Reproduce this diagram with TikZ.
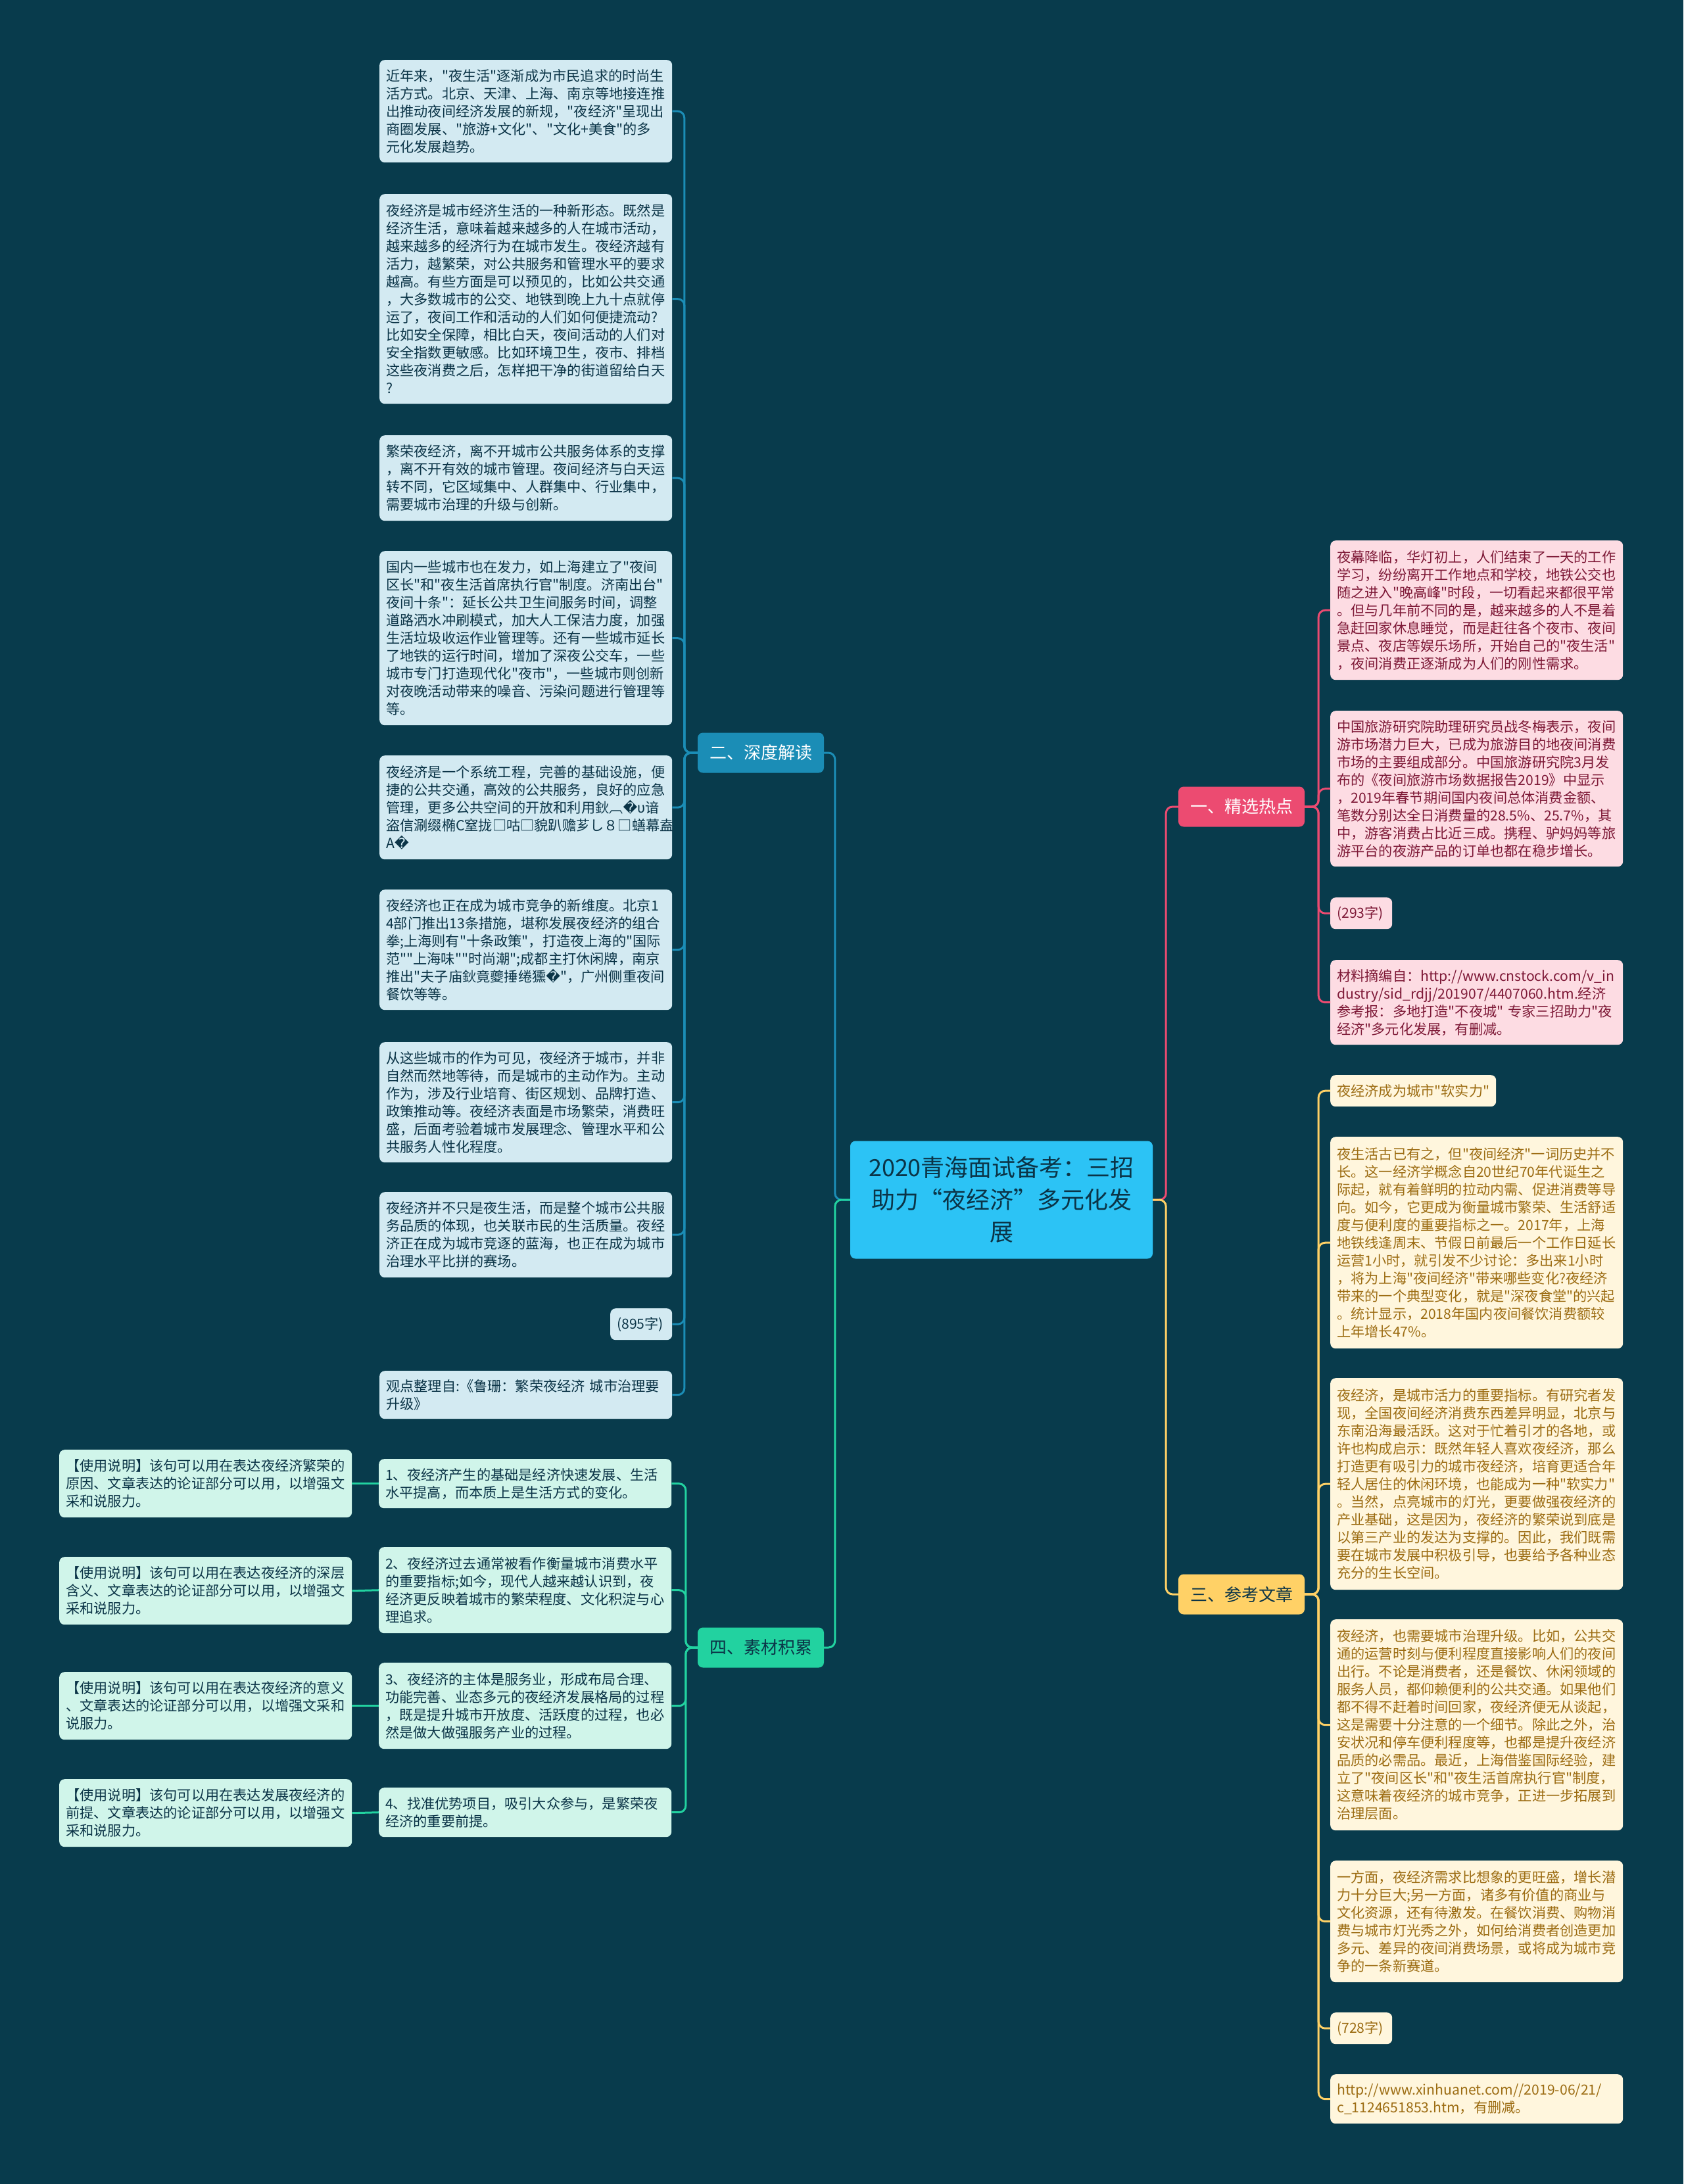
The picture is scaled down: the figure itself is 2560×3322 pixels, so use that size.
\documentclass[tikz,border=0pt]{standalone}
\usepackage{fontspec}
\setmainfont{Noto Sans CJK SC}[Ligatures=TeXOff]
\newfontfamily\repfont{DejaVu Sans}
\usepackage{tikz}
\usepackage{xcolor}

\definecolor{bgnight}{HTML}{083B4C}
\definecolor{rootsky}{HTML}{2CC3F5}
\definecolor{inkdark}{HTML}{0B3447}
\definecolor{deepblue}{HTML}{1B8DB6}
\definecolor{mintgreen}{HTML}{22D2A0}
\definecolor{rosered}{HTML}{EC4B71}
\definecolor{sunyellow}{HTML}{FFD166}
\definecolor{leafblue}{HTML}{D3EAF2}
\definecolor{leafmint}{HTML}{D0F5EA}
\definecolor{leafpink}{HTML}{FDDCE3}
\definecolor{leafcream}{HTML}{FFF6DD}
\definecolor{inkrose}{HTML}{7D1836}
\definecolor{inkgold}{HTML}{9C6C12}

\newcommand\leaffont{\fontsize{21.2pt}{27pt}\selectfont}
\newcommand\qm{{\repfont\symbol{"FFFD}}}

\begin{document}
\begin{tikzpicture}[x=1pt,y=-1pt,
  leaf/.style={anchor=north west,rounded corners=8pt,text width=425pt,
    inner xsep=10pt,inner ysep=0pt,align=left,font=\leaffont},
  leafb/.style={leaf,fill=leafblue,text=inkdark},
  leafm/.style={leaf,fill=leafmint,text=inkdark},
  leafp/.style={leaf,fill=leafpink,text=inkrose},
  leafc/.style={leaf,fill=leafcream,text=inkgold},
  branch/.style={rounded corners=8pt,minimum width=192pt,minimum height=61pt,
    inner sep=0pt,font=\fontsize{26pt}{30pt}\selectfont},
  link/.style={line width=3pt,rounded corners=10pt}]

  \fill[bgnight] (0,0) rectangle (2560,3322);
  \useasboundingbox (0,0) rectangle (2560,3322);

  % centre and main branches
  \node[fill=rootsky,text=inkdark,rounded corners=8pt,minimum width=460pt,
    minimum height=179pt,text width=430pt,align=center,inner sep=0pt,
    font=\fontsize{36pt}{49pt}\selectfont] (root) at (1523,1825)
    {2020青海面试备考：三招\\助力“夜经济”多元化发\\展};
  \node[branch,fill=deepblue,text=white] (deep) at (1157,1145) {二、深度解读};
  \node[branch,fill=mintgreen,text=inkdark] (stock) at (1157,2506) {四、素材积累};
  \node[branch,fill=rosered,text=white] (hot) at (1888,1227) {一、精选热点};
  \node[branch,fill=sunyellow,text=inkdark] (read) at (1888,2425) {三、参考文章};

  % 二、深度解读
  \node[leafb,minimum height=156pt] (d1) at (577,91)
    {近年来，"夜生活"逐渐成为市民追求的时尚生\\活方式。北京、天津、上海、南京等地接连推\\出推动夜间经济发展的新规，"夜经济"呈现出\\商圈发展、"旅游+文化"、"文化+美食"的多\\元化发展趋势。};
  \node[leafb,minimum height=319pt] (d2) at (577,295)
    {夜经济是城市经济生活的一种新形态。既然是\\经济生活，意味着越来越多的人在城市活动，\\越来越多的经济行为在城市发生。夜经济越有\\活力，越繁荣，对公共服务和管理水平的要求\\越高。有些方面是可以预见的，比如公共交通\\，大多数城市的公交、地铁到晚上九十点就停\\运了，夜间工作和活动的人们如何便捷流动?\\比如安全保障，相比白天，夜间活动的人们对\\安全指数更敏感。比如环境卫生，夜市、排档\\这些夜消费之后，怎样把干净的街道留给白天\\?};
  \node[leafb,minimum height=130pt] (d3) at (577,662)
    {繁荣夜经济，离不开城市公共服务体系的支撑\\，离不开有效的城市管理。夜间经济与白天运\\转不同，它区域集中、人群集中、行业集中，\\需要城市治理的升级与创新。};
  \node[leafb,minimum height=265pt] (d4) at (577,838)
    {国内一些城市也在发力，如上海建立了"夜间\\区长"和"夜生活首席执行官"制度。济南出台"\\夜间十条"：延长公共卫生间服务时间，调整\\道路洒水冲刷模式，加大人工保洁力度，加强\\生活垃圾收运作业管理等。还有一些城市延长\\了地铁的运行时间，增加了深夜公交车，一些\\城市专门打造现代化"夜市"，一些城市则创新\\对夜晚活动带来的噪音、污染问题进行管理等\\等。};
  \node[leafb,minimum height=158pt] (d5) at (577,1149)
    {夜经济是一个系统工程，完善的基础设施，便\\捷的公共交通，高效的公共服务，良好的应急\\管理，更多公共空间的开放和利用鈥︹\qm υ谙\\盗信涮缀椭C窒拢□咕□貌趴赡芗し８□蟮幕盍\\A\qm};
  \node[leafb,minimum height=183pt] (d6) at (577,1353)
    {夜经济也正在成为城市竞争的新维度。北京1\\4部门推出13条措施，堪称发展夜经济的组合\\拳;上海则有"十条政策"，打造夜上海的"国际\\范""上海味""时尚潮";成都主打休闲牌，南京\\推出"夫子庙鈥竟夔捶绻獯\qm"，广州侧重夜间\\餐饮等等。};
  \node[leafb,minimum height=183pt] (d7) at (577,1585)
    {从这些城市的作为可见，夜经济于城市，并非\\自然而然地等待，而是城市的主动作为。主动\\作为，涉及行业培育、街区规划、品牌打造、\\政策推动等。夜经济表面是市场繁荣，消费旺\\盛，后面考验着城市发展理念、管理水平和公\\共服务人性化程度。};
  \node[leafb,minimum height=130pt] (d8) at (577,1813)
    {夜经济并不只是夜生活，而是整个城市公共服\\务品质的体现，也关联市民的生活质量。夜经\\济正在成为城市竞逐的蓝海，也正在成为城市\\治理水平比拼的赛场。};
  \node[leafb,minimum height=48pt,text width=74pt] (d9) at (928,1990) {(895字)};
  \node[leafb,minimum height=73pt] (d10) at (577,2085)
    {观点整理自:《鲁珊：繁荣夜经济~城市治理要\\升级》};

  % 四、素材积累
  \node[leafm,minimum height=75pt] (m1) at (576,2219)
    {1、夜经济产生的基础是经济快速发展、生活\\水平提高，而本质上是生活方式的变化。};
  \node[leafm,minimum height=131pt] (m2) at (576,2353)
    {2、夜经济过去通常被看作衡量城市消费水平\\的重要指标;如今，现代人越来越认识到，夜\\经济更反映着城市的繁荣程度、文化积淀与心\\理追求。};
  \node[leafm,minimum height=131pt] (m3) at (576,2529)
    {3、夜经济的主体是服务业，形成布局合理、\\功能完善、业态多元的夜经济发展格局的过程\\，既是提升城市开放度、活跃度的过程，也必\\然是做大做强服务产业的过程。};
  \node[leafm,minimum height=75pt] (m4) at (576,2719)
    {4、找准优势项目，吸引大众参与，是繁荣夜\\经济的重要前提。};
  \node[leafm,minimum height=103pt] (u1) at (90,2205)
    {【使用说明】该句可以用在表达夜经济繁荣的\\原因、文章表达的论证部分可以用，以增强文\\采和说服力。};
  \node[leafm,minimum height=103pt] (u2) at (90,2368)
    {【使用说明】该句可以用在表达夜经济的深层\\含义、文章表达的论证部分可以用，以增强文\\采和说服力。};
  \node[leafm,minimum height=103pt] (u3) at (90,2543)
    {【使用说明】该句可以用在表达夜经济的意义\\、文章表达的论证部分可以用，以增强文采和\\说服力。};
  \node[leafm,minimum height=103pt] (u4) at (90,2706)
    {【使用说明】该句可以用在表达发展夜经济的\\前提、文章表达的论证部分可以用，以增强文\\采和说服力。};

  % 一、精选热点
  \node[leafp,minimum height=212pt] (h1) at (2023,822)
    {夜幕降临，华灯初上，人们结束了一天的工作\\学习，纷纷离开工作地点和学校，地铁公交也\\随之进入"晚高峰"时段，一切看起来都很平常\\。但与几年前不同的是，越来越多的人不是着\\急赶回家休息睡觉，而是赶往各个夜市、夜间\\景点、夜店等娱乐场所，开始自己的"夜生活"\\，夜间消费正逐渐成为人们的刚性需求。};
  \node[leafp,minimum height=237pt] (h2) at (2023,1081)
    {中国旅游研究院助理研究员战冬梅表示，夜间\\游市场潜力巨大，已成为旅游目的地夜间消费\\市场的主要组成部分。中国旅游研究院3月发\\布的《夜间旅游市场数据报告2019》中显示\\，2019年春节期间国内夜间总体消费金额、\\笔数分别达全日消费量的28.5\%、25.7\%，其\\中，游客消费占比近三成。携程、驴妈妈等旅\\游平台的夜游产品的订单也都在稳步增长。};
  \node[leafp,minimum height=48pt,text width=74pt] (h3) at (2023,1365) {(293字)};
  \node[leafp,minimum height=129pt] (h4) at (2023,1460)
    {材料摘编自：http://www.cnstock.com/v\_in\\dustry/sid\_rdjj/201907/4407060.htm.经济\\参考报：多地打造"不夜城"~专家三招助力"夜\\经济"多元化发展，有删减。};

  % 三、参考文章
  \node[leafc,minimum height=48pt,text width=232pt] (r1) at (2023,1635)
    {夜经济成为城市"软实力"};
  \node[leafc,minimum height=322pt] (r2) at (2023,1729)
    {夜生活古已有之，但"夜间经济"一词历史并不\\长。这一经济学概念自20世纪70年代诞生之\\际起，就有着鲜明的拉动内需、促进消费等导\\向。如今，它更成为衡量城市繁荣、生活舒适\\度与便利度的重要指标之一。2017年，上海\\地铁线逢周末、节假日前最后一个工作日延长\\运营1小时，就引发不少讨论：多出来1小时\\，将为上海"夜间经济"带来哪些变化?夜经济\\带来的一个典型变化，就是"深夜食堂"的兴起\\。统计显示，2018年国内夜间餐饮消费额较\\上年增长47\%。};
  \node[leafc,minimum height=322pt] (r3) at (2023,2096)
    {夜经济，是城市活力的重要指标。有研究者发\\现，全国夜间经济消费东西差异明显，北京与\\东南沿海最活跃。这对于忙着引才的各地，或\\许也构成启示：既然年轻人喜欢夜经济，那么\\打造更有吸引力的城市夜经济，培育更适合年\\轻人居住的休闲环境，也能成为一种"软实力"\\。当然，点亮城市的灯光，更要做强夜经济的\\产业基础，这是因为，夜经济的繁荣说到底是\\以第三产业的发达为支撑的。因此，我们既需\\要在城市发展中积极引导，也要给予各种业态\\充分的生长空间。};
  \node[leafc,minimum height=321pt] (r4) at (2023,2463)
    {夜经济，也需要城市治理升级。比如，公共交\\通的运营时刻与便利程度直接影响人们的夜间\\出行。不论是消费者，还是餐饮、休闲领域的\\服务人员，都仰赖便利的公共交通。如果他们\\都不得不赶着时间回家，夜经济便无从谈起，\\这是需要十分注意的一个细节。除此之外，治\\安状况和停车便利程度等，也都是提升夜经济\\品质的必需品。最近，上海借鉴国际经验，建\\立了"夜间区长"和"夜生活首席执行官"制度，\\这意味着夜经济的城市竞争，正进一步拓展到\\治理层面。};
  \node[leafc,minimum height=185pt] (r5) at (2023,2830)
    {一方面，夜经济需求比想象的更旺盛，增长潜\\力十分巨大;另一方面，诸多有价值的商业与\\文化资源，还有待激发。在餐饮消费、购物消\\费与城市灯光秀之外，如何给消费者创造更加\\多元、差异的夜间消费场景，或将成为城市竞\\争的一条新赛道。};
  \node[leafc,minimum height=48pt,text width=74pt] (r6) at (2023,3061) {(728字)};
  \node[leafc,minimum height=75pt] (r7) at (2023,3155)
    {http://www.xinhuanet.com//2019-06/21/\\c\_1124651853.htm，有删减。};

  % connectors
  \draw[link,deepblue] (root.west) -- ++(-23,0) |- (deep.east);
  \draw[link,mintgreen] (root.west) -- ++(-23,0) |- (stock.east);
  \draw[link,rosered] (root.east) -- ++(20,0) |- (hot.west);
  \draw[link,sunyellow] (root.east) -- ++(20,0) |- (read.west);

  \foreach \k in {d1,d2,d3,d4,d5,d6,d7,d8,d9,d10}
    \draw[link,deepblue] (deep.west) -- ++(-20,0) |- (\k.east);
  \foreach \k in {m1,m2,m3,m4}
    \draw[link,mintgreen] (stock.west) -- ++(-18,0) |- (\k.east);
  \foreach \k/\u in {m1/u1,m2/u2,m3/u3,m4/u4}
    \draw[link,mintgreen] (\k.west) -- (\u.east);
  \foreach \k in {h1,h2,h3,h4}
    \draw[link,rosered] (hot.east) -- ++(21,0) |- (\k.west);
  \foreach \k in {r1,r2,r3,r4,r5,r6,r7}
    \draw[link,sunyellow] (read.east) -- ++(21,0) |- (\k.west);
\end{tikzpicture}
\end{document}
